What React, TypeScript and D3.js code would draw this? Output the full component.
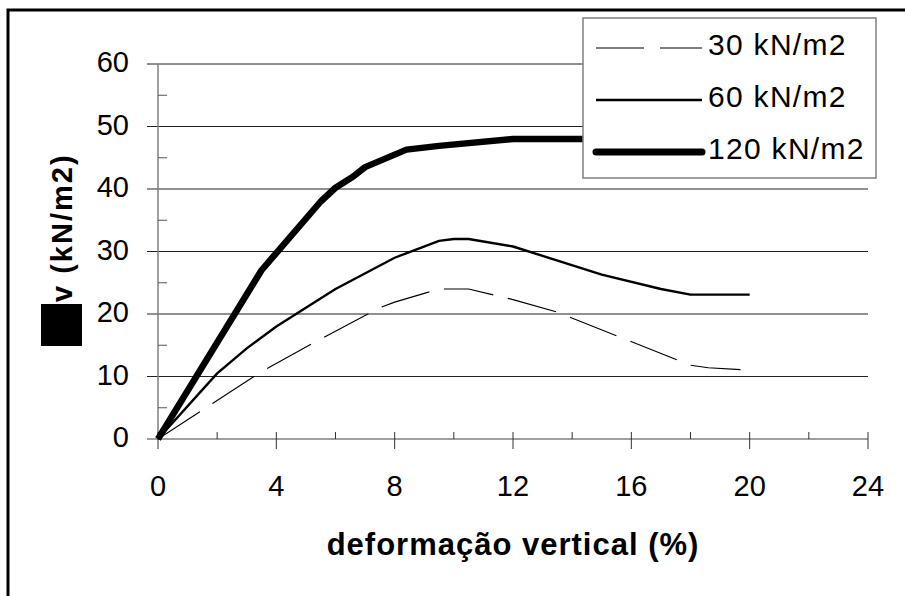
import React, { useEffect, useRef } from 'react';
import * as d3 from 'd3';

// strain (%) and vertical stress (kN/m2)
const strain30 = [0, 3.5, 5.5, 7.5, 8, 9.5, 10, 10.5, 12, 13.5, 18, 18.6, 19.7];
const stress30 = [0, 10.8, 16, 21, 21.9, 24, 24, 24, 22.3, 20.3, 11.8, 11.4, 11.1];

const strain60 = [0, 2, 3, 4, 6, 8, 9.5, 10, 10.5, 12, 15, 17, 18, 20];
const stress60 = [0, 10.5, 14.5, 18, 24, 29, 31.7, 32, 32, 30.8, 26.3, 24, 23.1, 23.1];

const strain120 = [0, 3.5, 5.5, 6, 6.6, 7, 8.4, 9.5, 12, 14, 16, 18, 20];
const stress120 = [0, 27, 38, 40.2, 42, 43.5, 46.3, 46.9, 48, 48, 48, 48, 48];

const seriesNames = ['30 kN/m2', '60 kN/m2', '120 kN/m2'];
const xTicks = [0, 4, 8, 12, 16, 20, 24];
const yTicks = [0, 10, 20, 30, 40, 50, 60];

const FONT = "'Liberation Sans', Arial, sans-serif";

const App = () => {
  const ref = useRef<SVGSVGElement>(null);

  useEffect(() => {
    const svg = d3.select(ref.current);
    svg.selectAll('*').remove();

    const x = d3.scaleLinear().domain([0, 24]).range([158, 868]);
    const y = d3.scaleLinear().domain([0, 60]).range([439, 64]);

    //outer frame (only left and top are inside the picture)
    svg
      .append('rect')
      .attr('x', 8)
      .attr('y', 10)
      .attr('width', 1200)
      .attr('height', 900)
      .attr('fill', 'none')
      .attr('stroke', '#000')
      .attr('stroke-width', 3);

    //gridlines
    svg
      .append('g')
      .selectAll('line')
      .data(yTicks.slice(1))
      .join('line')
      .attr('x1', 147)
      .attr('x2', x(24))
      .attr('y1', (d) => y(d))
      .attr('y2', (d) => y(d))
      .attr('stroke', '#222')
      .attr('stroke-width', 1);

    //y axis
    const yAxis = svg.append('g').attr('transform', `translate(${x(0)},0)`);
    yAxis
      .append('line')
      .attr('y1', y(0))
      .attr('y2', y(60))
      .attr('stroke', '#7f7f7f')
      .attr('stroke-width', 1.5);
    yAxis
      .selectAll('line.minor')
      .data(d3.range(5, 60, 10))
      .join('line')
      .attr('class', 'minor')
      .attr('x1', 0)
      .attr('x2', 9)
      .attr('y1', (d) => y(d))
      .attr('y2', (d) => y(d))
      .attr('stroke', '#555');
    yAxis
      .selectAll('text')
      .data(yTicks)
      .join('text')
      .attr('x', -29)
      .attr('y', (d) => y(d) + 8)
      .attr('text-anchor', 'end')
      .attr('font-family', FONT)
      .attr('font-size', 29)
      .text((d) => d);

    //x axis
    const xAxis = svg.append('g').attr('transform', `translate(0,${y(0)})`);
    xAxis
      .append('line')
      .attr('x1', 147)
      .attr('x2', x(24))
      .attr('stroke', '#7f7f7f')
      .attr('stroke-width', 1.5);
    xAxis
      .selectAll('line.major')
      .data(xTicks)
      .join('line')
      .attr('class', 'major')
      .attr('x1', (d) => x(d))
      .attr('x2', (d) => x(d))
      .attr('y1', -7)
      .attr('y2', 10)
      .attr('stroke', '#333');
    xAxis
      .selectAll('line.minor')
      .data(d3.range(2, 24, 4))
      .join('line')
      .attr('class', 'minor')
      .attr('x1', (d) => x(d))
      .attr('x2', (d) => x(d))
      .attr('y1', -7)
      .attr('y2', 0)
      .attr('stroke', '#333');
    xAxis
      .selectAll('text')
      .data(xTicks)
      .join('text')
      .attr('x', (d) => x(d))
      .attr('y', 57)
      .attr('text-anchor', 'middle')
      .attr('font-family', FONT)
      .attr('font-size', 29)
      .text((d) => d);

    //axis titles
    svg
      .append('text')
      .attr('x', (x(0) + x(24)) / 2)
      .attr('y', 555)
      .attr('text-anchor', 'middle')
      .attr('font-family', FONT)
      .attr('font-weight', 'bold')
      .attr('font-size', 31)
      .attr('letter-spacing', 1)
      .text('deformação vertical (%)');

    svg.append('rect').attr('x', 41).attr('y', 304).attr('width', 41).attr('height', 42).attr('fill', '#000');
    svg
      .append('text')
      .attr('transform', 'translate(72,302) rotate(-90)')
      .attr('font-family', FONT)
      .attr('font-weight', 'bold')
      .attr('font-size', 29)
      .attr('letter-spacing', 2)
      .text('v (kN/m2)');

    //curves
    const line = d3
      .line<[number, number]>()
      .x((d) => x(d[0]))
      .y((d) => y(d[1]));

    const styles = [
      { width: 1.1, dash: '50,15' },
      { width: 2.4, dash: null },
      { width: 6.5, dash: null },
    ];
    const curves = [
      d3.zip(strain30, stress30),
      d3.zip(strain60, stress60),
      d3.zip(strain120, stress120),
    ];

    curves.forEach((pts, i) => {
      svg
        .append('path')
        .datum(pts as [number, number][])
        .attr('d', line)
        .attr('fill', 'none')
        .attr('stroke', '#000')
        .attr('stroke-width', styles[i].width)
        .attr('stroke-linejoin', 'round')
        .attr('stroke-dasharray', styles[i].dash);
    });

    //legend
    const legend = svg.append('g');
    legend
      .append('rect')
      .attr('x', 583)
      .attr('y', 18)
      .attr('width', 293)
      .attr('height', 160)
      .attr('fill', '#fff')
      .attr('stroke', '#7f7f7f')
      .attr('stroke-width', 1.5);

    seriesNames.forEach((name, i) => {
      const ly = 48 + i * 52;
      legend
        .append('line')
        .attr('x1', 596)
        .attr('x2', 702)
        .attr('y1', ly)
        .attr('y2', ly)
        .attr('stroke', '#000')
        .attr('stroke-width', i === 2 ? 7 : styles[i].width)
        .attr('stroke-linecap', i === 2 ? 'round' : 'butt')
        .attr('stroke-dasharray', i === 0 ? '48,16' : null);
      legend
        .append('text')
        .attr('x', 708)
        .attr('y', ly + 7)
        .attr('font-family', FONT)
        .attr('font-size', 30)
        .attr('letter-spacing', 1.3)
        .text(name);
    });
  });

  return (
    <div style={{ position: 'absolute', left: 0, top: 0 }}>
      <svg ref={ref} width={905} height={596} style={{ display: 'block', background: '#fff' }}></svg>
    </div>
  );
};

export default App;
